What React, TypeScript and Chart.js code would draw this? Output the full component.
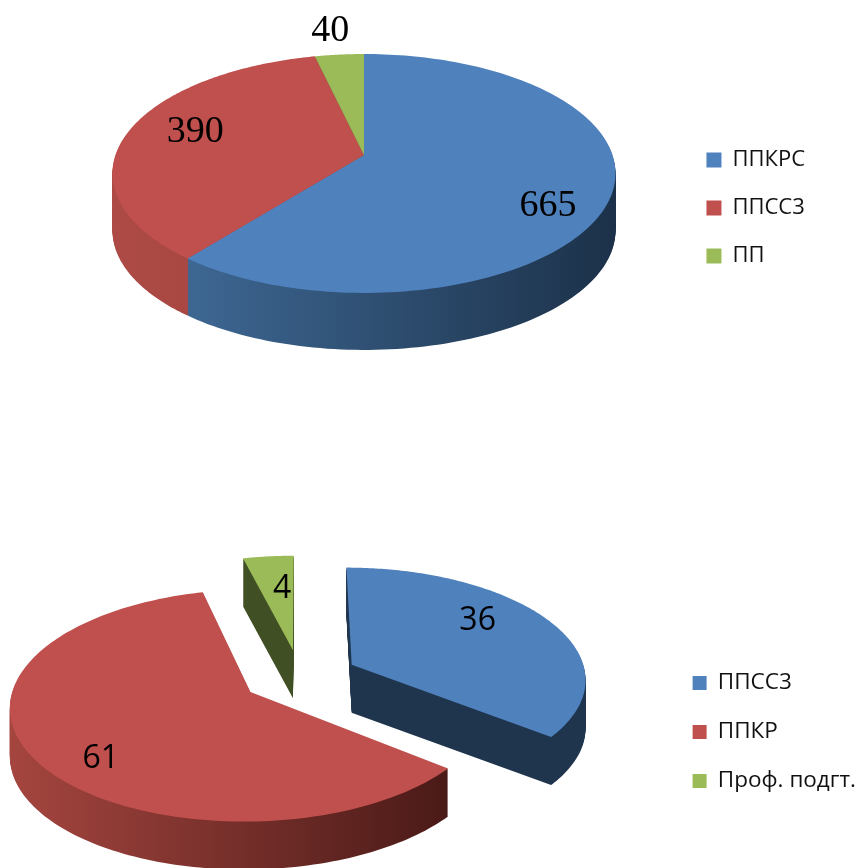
import React, { useEffect, useRef } from "react";
import { Chart, registerables } from "chart.js";

Chart.register(...registerables);

// ---- data ----
const topLabels = ["ППКРС", "ППСС3", "ПП"];
const topValues = [665, 390, 40];
const bottomLabels = ["ППСС3", "ППКР", "Проф. подгт."];
const bottomValues = [36, 61, 4];
const sliceColors = ["#4f81bd", "#c0504d", "#9bbb59"];

const topWalls = [
  ["#43709f", "#1c3149"],
  ["#ad4a45", "#8f3a37"],
  ["#5c7030", "#5c7030"],
];
const bottomWalls = [
  ["#1f344d", "#1f344d"],
  ["#a5453f", "#4a1a17"],
  ["#414f24", "#414f24"],
];

type Pie3dOptions = {
  cx: number; cy: number; A: number; B: number; k: number; depth: number;
  x0: number; x1: number;
  walls: string[][]; wallOrder: number[];
  labelFraction: number[]; labelNudge: number[][]; font: string;
};

function project(o: Pie3dOptions, u: number, v: number) {
  const w = 1 - o.k * v;
  return { x: o.cx + (o.A * u) / w, y: o.cy + (o.B * v) / w };
}

function slicePoints(o: Pie3dOptions, arc: any) {
  const r = arc.outerRadius;
  const mid = (arc.startAngle + arc.endAngle) / 2;
  const off = (arc.options.offset || 0) / r;
  const au = Math.cos(mid) * off;
  const av = Math.sin(mid) * off;
  const pts = [project(o, au, av)];
  const n = 160;
  for (let i = 0; i <= n; i++) {
    const a = arc.startAngle + ((arc.endAngle - arc.startAngle) * i) / n;
    pts.push(project(o, au + Math.cos(a), av + Math.sin(a)));
  }
  return { pts, au, av, mid };
}

function fillPts(ctx: CanvasRenderingContext2D, pts: { x: number; y: number }[], dy: number) {
  ctx.beginPath();
  pts.forEach((p, i) => (i ? ctx.lineTo(p.x, p.y + dy) : ctx.moveTo(p.x, p.y + dy)));
  ctx.closePath();
  ctx.fill();
}

const pie3d = {
  id: "pie3d",
  beforeDatasetsDraw(chart: any, _args: any, o: Pie3dOptions) {
    const ctx: CanvasRenderingContext2D = chart.ctx;
    const arcs = chart.getDatasetMeta(0).data;
    ctx.save();
    o.wallOrder.forEach((i) => {
      const { pts } = slicePoints(o, arcs[i]);
      const g = ctx.createLinearGradient(o.x0, 0, o.x1, 0);
      g.addColorStop(0, o.walls[i][0]);
      g.addColorStop(1, o.walls[i][1]);
      ctx.fillStyle = g;
      for (let d = o.depth; d >= 1; d--) fillPts(ctx, pts, d);
    });
    arcs.forEach((arc: any) => {
      ctx.fillStyle = arc.options.backgroundColor;
      fillPts(ctx, slicePoints(o, arc).pts, 0);
    });
    ctx.fillStyle = "#000";
    ctx.font = o.font;
    ctx.textAlign = "center";
    ctx.textBaseline = "middle";
    arcs.forEach((arc: any, i: number) => {
      const { au, av, mid } = slicePoints(o, arc);
      const f = o.labelFraction[i];
      const p = project(o, au + Math.cos(mid) * f, av + Math.sin(mid) * f);
      const value = chart.data.datasets[0].data[i];
      ctx.fillText(String(value), p.x + o.labelNudge[i][0], p.y + o.labelNudge[i][1]);
    });
    ctx.restore();
    return false;
  },
};

function makeConfig(labels: string[], values: number[], offsets: number[], legendFont: any, pad: any, boxSize: number, legendGap: number, pieOptions: Pie3dOptions): any {
  return {
    type: "pie",
    data: {
      labels,
      datasets: [{ data: values, backgroundColor: sliceColors, borderWidth: 0, offset: offsets }],
    },
    options: {
      responsive: false,
      animation: false,
      layout: { padding: pad },
      plugins: {
        tooltip: { enabled: false },
        legend: {
          position: "right",
          labels: { boxWidth: boxSize, boxHeight: boxSize, font: legendFont, color: "#111", padding: legendGap },
        },
        pie3d: pieOptions,
      },
    },
    plugins: [pie3d],
  };
}

const topConfig = () =>
  makeConfig(topLabels, topValues, [0, 0, 0], { family: "Open Sans", size: 22 }, { top: 4, right: 44, bottom: 0, left: 0 }, 15, 26, {
    cx: 364, cy: 155, A: 248.5, B: 116.6, k: 0.1547, depth: 57, x0: 115, x1: 615,
    walls: topWalls, wallOrder: [1, 2, 0],
    labelFraction: [0.75, 0.7, 1.2],
    labelNudge: [[1, 21], [-3, -5], [-5, -7]],
    font: "38px 'Liberation Serif'",
  });

const bottomConfig = () =>
  makeConfig(bottomLabels, bottomValues, [30, 30, 30], { family: "Open Sans", size: 22.5 }, { top: 176, right: 0, bottom: 0, left: 0 }, 14, 26.5, {
    cx: 300, cy: 676.7 - 420, A: 234.5, B: 111, k: 0.115, depth: 48, x0: 11, x1: 447,
    walls: bottomWalls, wallOrder: [2, 0, 1],
    labelFraction: [0.6, 0.6, 0.7],
    labelNudge: [[6, -16], [-23, 28], [7, 6]],
    font: "32px 'Open Sans'",
  });

export default function App() {
  const topRef = useRef<HTMLCanvasElement>(null);
  const bottomRef = useRef<HTMLCanvasElement>(null);
  useEffect(() => {
    const a = new Chart(topRef.current as any, topConfig());
    const b = new Chart(bottomRef.current as any, bottomConfig());
    return () => {
      a.destroy();
      b.destroy();
    };
  }, []);
  return (
    <div style={{ position: "absolute", left: 0, top: 0, width: 859, height: 868, background: "#fff", overflow: "hidden" }}>
      <canvas ref={topRef} width={859} height={412} style={{ position: "absolute", left: 0, top: 0 }} />
      <canvas ref={bottomRef} width={866} height={448} style={{ position: "absolute", left: 0, top: 420 }} />
    </div>
  );
}
